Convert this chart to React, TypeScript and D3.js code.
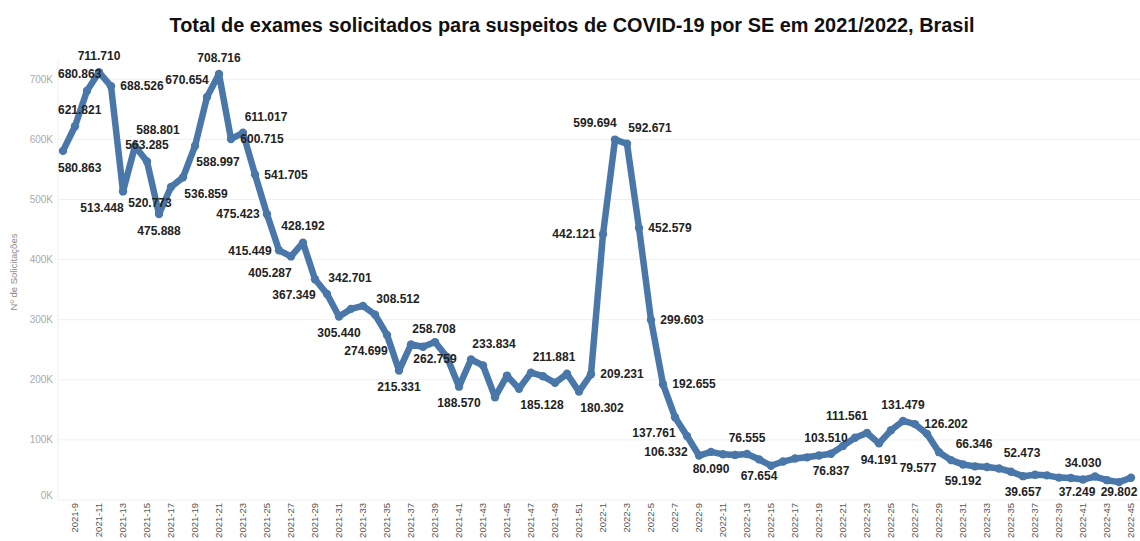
import * as d3 from "d3";
import { useEffect, useRef } from "react";

// semanas epidemiológicas
const weeks2021 = d3.range(8, 53).map((w) => `2021-${w}`);
const weeks2022 = d3.range(1, 46).map((w) => `2022-${w}`);

const values2021 = [
  580863, 621821, 680863, 711710, 688526, 513448, 588801, 563285, 475888,
  520773, 536859, 588997, 670654, 708716, 600715, 611017, 541705, 475423,
  415449, 405287, 428192, 367349, 342701, 305440, 318000, 323000, 308512,
  274699, 215331, 258708, 255000, 262759, 238000, 188570, 233834, 224000,
  171000, 207000, 185128, 211881, 206000, 195000, 210000, 180302, 209231,
];

const values2022 = [
  442121, 599694, 592671, 452579, 299603, 192655, 137761, 106332, 74000,
  80090, 76000, 75000, 76555, 67654, 57000, 64000, 69000, 71000, 74000,
  76837, 90000, 103510, 111561, 94191, 116000, 131479, 126202, 110000, 79577,
  66346, 59192, 56000, 55000, 52473, 47000, 39657, 42000, 41000, 37249, 36500,
  34030, 39000, 33000, 29802, 37000,
];

const yTicks = [0, 100000, 200000, 300000, 400000, 500000, 600000, 700000];

// onde fica o rótulo de cada valor marcado
const labelPos: Record<string, string> = {
  "2021-8": "b", "2021-9": "t", "2021-10": "tl", "2021-11": "t", "2021-12": "r",
  "2021-13": "bl", "2021-14": "tr", "2021-15": "t", "2021-16": "b", "2021-17": "bl",
  "2021-18": "br", "2021-19": "br", "2021-20": "tl", "2021-21": "t", "2021-22": "r",
  "2021-23": "tr", "2021-24": "r", "2021-25": "l", "2021-26": "l", "2021-27": "bl",
  "2021-28": "t", "2021-29": "bl", "2021-30": "tr", "2021-31": "b", "2021-34": "tr",
  "2021-35": "bl", "2021-36": "b", "2021-37": "tr", "2021-39": "b", "2021-41": "b",
  "2021-42": "tr", "2021-46": "br", "2021-47": "tr", "2021-51": "br", "2021-52": "r",
  "2022-1": "l", "2022-2": "tl", "2022-3": "tr", "2022-4": "r", "2022-5": "r",
  "2022-6": "r", "2022-7": "bl", "2022-8": "bl", "2022-10": "b", "2022-13": "t",
  "2022-14": "b", "2022-20": "b", "2022-22": "l", "2022-23": "tl", "2022-24": "b",
  "2022-26": "t", "2022-27": "r", "2022-29": "bl", "2022-30": "tr", "2022-31": "b",
  "2022-34": "tr", "2022-36": "b", "2022-39": "br2", "2022-41": "t", "2022-44": "b",
};

const offsets: Record<string, [number, number]> = {
  t: [0, -16.5], b: [0, 16.5], r: [31, 0], l: [-29, 0],
  tr: [23, -16], tl: [-20, -17], br: [23, 16], bl: [-21, 16], br2: [18, 16],
};

const ptBR = d3.formatLocale({ decimal: ",", thousands: ".", grouping: [3], currency: ["", ""] });
const fmt = ptBR.format(",d");

const W = 1140;
const H = 541;
const font = "'Liberation Sans', Arial, sans-serif";

export default function App() {
  const ref = useRef<SVGSVGElement>(null);

  useEffect(() => {
    if (!ref.current) return;
    const svg = d3.select(ref.current);
    svg.selectAll("*").remove();

    const data = [
      ...weeks2021.map((w, i) => ({ week: w, value: values2021[i] })),
      ...weeks2022.map((w, i) => ({ week: w, value: values2022[i] })),
    ];

    const plotLeft = 58;
    const x = d3.scalePoint<string>().domain(data.map((d) => d.week)).range([63, 1131]);
    const y = d3.scaleLinear().domain([0, 700000]).range([500, 79.3]);

    svg
      .append("text")
      .attr("x", 572)
      .attr("y", 32)
      .attr("text-anchor", "middle")
      .attr("font-family", font)
      .attr("font-weight", "bold")
      .attr("font-size", 19.5)
      .attr("fill", "#111")
      .attr("textLength", 805)
      .attr("lengthAdjust", "spacingAndGlyphs")
      .text("Total de exames solicitados para suspeitos de COVID-19 por SE em 2021/2022, Brasil");

    // grade
    svg
      .append("g")
      .selectAll("line")
      .data(yTicks)
      .join("line")
      .attr("x1", plotLeft)
      .attr("x2", W)
      .attr("y1", (d) => y(d))
      .attr("y2", (d) => y(d))
      .attr("stroke", "#f0f0f0");

    svg
      .append("line")
      .attr("x1", plotLeft)
      .attr("x2", plotLeft)
      .attr("y1", 60)
      .attr("y2", 500)
      .attr("stroke", "#eeeeee");

    svg
      .append("g")
      .selectAll("text")
      .data(yTicks)
      .join("text")
      .attr("x", 53)
      .attr("y", (d) => (d === 0 ? y(d) - 5 : y(d)))
      .attr("dy", "0.35em")
      .attr("text-anchor", "end")
      .attr("font-family", font)
      .attr("font-size", 10)
      .attr("fill", "#aaa")
      .text((d) => `${d / 1000}K`);

    svg
      .append("text")
      .attr("transform", "translate(14,272) rotate(-90)")
      .attr("text-anchor", "middle")
      .attr("dy", "0.35em")
      .attr("font-family", font)
      .attr("font-size", 9.5)
      .attr("fill", "#888")
      .text("Nº de Solicitações");

    // eixo x: só semanas ímpares
    const shown = data.filter((d) => +d.week.split("-")[1] % 2 === 1);
    svg
      .append("g")
      .selectAll("text")
      .data(shown)
      .join("text")
      .attr("transform", (d) => `translate(${x(d.week)},503) rotate(-90)`)
      .attr("text-anchor", "end")
      .attr("dy", "0.35em")
      .attr("font-family", font)
      .attr("font-size", 9.5)
      .attr("fill", "#555")
      .text((d) => d.week);

    const line = d3
      .line<{ week: string; value: number }>()
      .x((d) => x(d.week)!)
      .y((d) => y(d.value));

    svg
      .append("path")
      .datum(data)
      .attr("d", line)
      .attr("fill", "none")
      .attr("stroke", "#4a77a9")
      .attr("stroke-width", 6.5)
      .attr("stroke-linejoin", "round")
      .attr("stroke-linecap", "round");

    svg
      .append("g")
      .selectAll("circle")
      .data(data)
      .join("circle")
      .attr("cx", (d) => x(d.week)!)
      .attr("cy", (d) => y(d.value))
      .attr("r", 4.2)
      .attr("fill", "#4a77a9");

    const labelled = data.filter((d) => labelPos[d.week]);
    const labels = svg
      .append("g")
      .selectAll("text")
      .data(labelled)
      .join("text")
      .attr("text-anchor", "middle")
      .attr("dy", "0.35em")
      .attr("font-family", font)
      .attr("font-weight", "bold")
      .attr("font-size", 12)
      .attr("fill", "#222")
      .text((d) => fmt(d.value));

    labels.each(function (d) {
      const el = this as SVGTextElement;
      const half = el.getComputedTextLength() / 2;
      const [dx, dy] = offsets[labelPos[d.week]];
      let cx = x(d.week)! + dx;
      let cy = y(d.value) + dy;
      if (cx - half < plotLeft) cx = plotLeft + half;
      if (cx + half > W - 2) cx = W - 2 - half;
      if (cy > 492) cy = 492;
      d3.select(el).attr("x", cx).attr("y", cy);
    });
  }, []);

  return (
    <svg
      ref={ref}
      width={W}
      height={H}
      style={{ position: "absolute", left: 0, top: 0, background: "#fff" }}
    />
  );
}
